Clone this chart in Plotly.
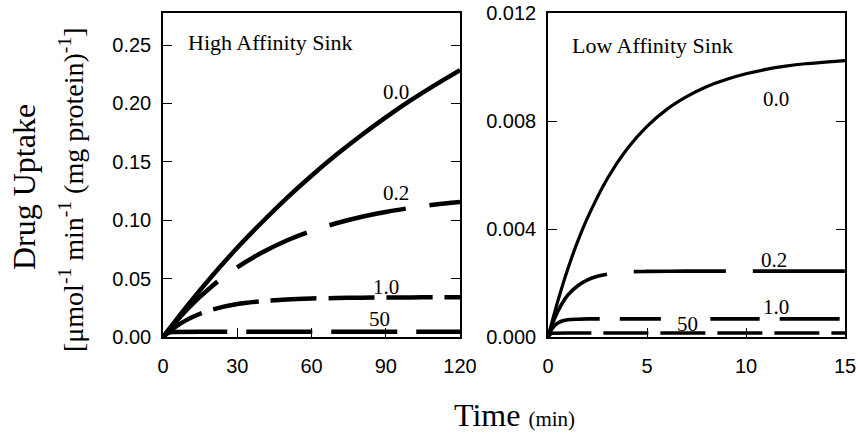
import plotly.graph_objects as go

# High affinity sink, time course 0-120 min, one curve per competitor level
hi_labels = ["0.0", "0.2", "1.0", "50"]
hi_t_00 = [0, 10, 20, 30, 40, 50, 60, 70, 80, 90, 100, 110, 120]
hi_u_00 = [0, 0.0273, 0.0527, 0.0764, 0.0983, 0.1190, 0.1381, 0.1560, 0.1726,
           0.1881, 0.2026, 0.2160, 0.2286]
hi_t_02 = [0, 10, 20, 30, 40, 50, 60, 70, 80, 90, 100, 110, 120]
hi_u_02 = [0, 0.0243, 0.0439, 0.0597, 0.0723, 0.0826, 0.0908, 0.0974, 0.1028,
           0.1071, 0.1106, 0.1134, 0.1156]
hi_t_10 = [0, 5, 10, 15, 20, 30, 40, 50, 60, 70, 80, 90, 100, 110, 120]
hi_u_10 = [0, 0.0087, 0.0151, 0.0199, 0.0235, 0.0282, 0.0307, 0.0322, 0.0330,
           0.0334, 0.0337, 0.0338, 0.0339, 0.0340, 0.0340]
hi_t_50 = [0, 1, 2, 4, 8, 15, 30, 60, 90, 120]
hi_u_50 = [0, 0.0026, 0.0038, 0.0043, 0.0045, 0.0045, 0.0045, 0.0045, 0.0045, 0.0045]

# Low affinity sink, time course 0-15 min
lo_labels = ["0.0", "0.2", "1.0", "50"]
lo_t_00 = [0, 0.5, 1, 1.5, 2, 3, 4, 5, 6, 7, 8, 9, 10, 11, 12, 13, 14, 15]
lo_u_00 = [0, 0.00134, 0.00252, 0.00354, 0.00442, 0.00587, 0.00697, 0.00780,
           0.00843, 0.00890, 0.00927, 0.00954, 0.00975, 0.00991, 0.01003,
           0.01012, 0.01018, 0.01024]
lo_t_02 = [0, 0.25, 0.5, 0.75, 1, 1.5, 2, 2.5, 3, 4, 5, 7, 10, 15]
lo_u_02 = [0, 0.00054, 0.00096, 0.00129, 0.00155, 0.00190, 0.00212, 0.00225,
           0.00233, 0.00241, 0.00243, 0.00244, 0.00244, 0.00244]
lo_t_10 = [0, 0.1, 0.2, 0.3, 0.5, 0.75, 1, 1.5, 2, 5, 10, 15]
lo_u_10 = [0, 0.00017, 0.00030, 0.00040, 0.00052, 0.00060, 0.00064, 0.00066,
           0.00067, 0.00067, 0.00067, 0.00067]
lo_t_50 = [0, 0.1, 0.2, 0.4, 1, 5, 10, 15]
lo_u_50 = [0, 0.00010, 0.00014, 0.00015, 0.00015, 0.00015, 0.00015, 0.00015]

hi_xticks = [0, 30, 60, 90, 120]
hi_yticks = [0.00, 0.05, 0.10, 0.15, 0.20, 0.25]
lo_xticks = [0, 5, 10, 15]
lo_yticks = [0.000, 0.004, 0.008, 0.012]

SERIF = "Liberation Serif"
SANS = "Liberation Sans"

W, H = 858, 438
PLOT_TOP, PLOT_BOTTOM = 13, 337

fig = go.Figure()


def curve(x, y, width, dash, xa, ya, shape="spline"):
    fig.add_trace(go.Scatter(
        x=x, y=y, mode="lines", xaxis=xa, yaxis=ya, showlegend=False,
        line=dict(color="black", width=width, dash=dash, shape=shape,
                  smoothing=0.8 if shape == "spline" else None),
        hoverinfo="skip"))


# left panel
curve(hi_t_00, hi_u_00, 4.5, "solid", "x", "y")
curve(hi_t_02, hi_u_02, 4.5, "78px,24px", "x", "y")
curve(hi_t_10, hi_u_10, 4.5, "46px,12px", "x", "y")
curve(hi_t_50, hi_u_50, 4.5, "66px,19px", "x", "y", "linear")

# right panel
curve(lo_t_00, lo_u_00, 3.2, "solid", "x2", "y2")
curve(lo_t_02, lo_u_02, 3.6, "92px,27px", "x2", "y2")
curve(lo_t_10, lo_u_10, 3.6, "60px,20px", "x2", "y2")
curve(lo_t_50, lo_u_50, 3.6, "45px,12px", "x2", "y2", "linear")

axis_common = dict(
    showgrid=False, zeroline=False, showline=True, linecolor="black",
    linewidth=1.5, ticks="inside", ticklen=9, tickwidth=1.2,
    tickcolor="black", tickfont=dict(family=SANS, size=20, color="black"),
    automargin=False,
)

fig.update_layout(
    width=W, height=H,
    paper_bgcolor="white", plot_bgcolor="white",
    margin=dict(l=0, r=0, t=PLOT_TOP, b=H - PLOT_BOTTOM, autoexpand=False),
    xaxis=dict(axis_common, domain=[163 / W, 460 / W], range=[0, 120],
               tickvals=hi_xticks, mirror=True, ticklabelstandoff=10),
    yaxis=dict(axis_common, range=[0, 0.2775], tickvals=hi_yticks,
               tickformat=".2f", mirror="ticks", ticklabelstandoff=6,
               anchor="x"),
    xaxis2=dict(axis_common, domain=[548 / W, 845 / W], range=[0, 15],
                tickvals=lo_xticks, mirror=True, anchor="y2",
                ticklabelstandoff=10),
    yaxis2=dict(axis_common, range=[0, 0.012], tickvals=lo_yticks,
                tickformat=".3f", mirror="ticks", anchor="x2",
                ticklabelstandoff=6),
)

# white patch that breaks the 1.0 curve where the "50" label sits
fig.add_shape(type="rect", xref="x2", yref="y2", x0=5.7, x1=8.2,
              y0=0.00046, y1=0.00088, fillcolor="white", line_width=0,
              layer="above")

anns = []


def label(text, x, y, xref, yref, size=21, xanchor="center"):
    anns.append(dict(text=text, x=x, y=y, xref=xref, yref=yref,
                     showarrow=False, xanchor=xanchor, yanchor="middle",
                     font=dict(family=SERIF, size=size, color="black")))


label("High Affinity Sink", 9.3, 0.2526, "x", "y", size=22, xanchor="left")
hi_label_pos = [(94.1, 0.2098), (94.1, 0.1233), (90.1, 0.0428), (87.3, 0.0154)]
for txt, (lx, ly) in zip(hi_labels, hi_label_pos):
    label(txt, lx, ly, "x", "y")

label("Low Affinity Sink", 1.11, 0.01081, "x2", "y2", size=22, xanchor="left")
lo_label_pos = [(11.52, 0.00881), (11.41, 0.00285), (11.52, 0.00111), (7.02, 0.00048)]
for txt, (lx, ly) in zip(lo_labels, lo_label_pos):
    label(txt, lx, ly, "x2", "y2")


def page_pos(px, py):
    # pixel position on the page -> paper fractions of the plotting area
    return px / W, (PLOT_BOTTOM - py) / (PLOT_BOTTOM - PLOT_TOP)


# axis titles
x0, y0 = page_pos(24, 187)
anns.append(dict(text="Drug Uptake", x=x0, y=y0,
                 xref="paper", yref="paper", showarrow=False, textangle=-90,
                 xanchor="center", yanchor="middle",
                 font=dict(family=SERIF, size=32, color="black")))
x1, y1 = page_pos(71, 190)
anns.append(dict(text="[\u03bcmol<sup>-1</sup> min<sup>-1</sup> (mg protein)<sup>-1</sup>]",
                 x=x1, y=y1, xref="paper", yref="paper",
                 showarrow=False, textangle=-90, xanchor="center",
                 yanchor="middle",
                 font=dict(family=SERIF, size=28, color="black")))
x2, y2 = page_pos(514, 415)
anns.append(dict(text="Time <span style='font-size:21px'>(min)</span>",
                 x=x2, y=y2, xref="paper", yref="paper",
                 showarrow=False, xanchor="center", yanchor="middle",
                 font=dict(family=SERIF, size=32, color="black")))

fig.update_layout(annotations=anns)
fig.write_html("out.html")
